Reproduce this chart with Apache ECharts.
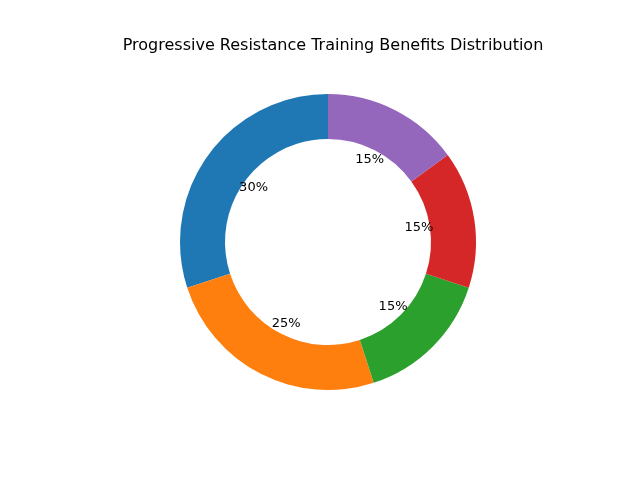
<!DOCTYPE html>
<html><head><meta charset="UTF-8"><title>donut</title>
<script src="https://cdn.jsdelivr.net/npm/echarts@6/dist/echarts.min.js"></script>
<style>html,body{margin:0;padding:0;background:#fff}#chart{width:640px;height:480px}</style>
</head><body>
<div id="chart"></div>
<script>
const categories = ['Strength', 'Muscle Growth', 'Endurance', 'Bone Density', 'Metabolism'];
const values = [30, 25, 15, 15, 15];
const colors = ['#1f77b4', '#ff7f0e', '#2ca02c', '#d62728', '#9467bd'];

const data = categories.map((c, i) => ({ name: c, value: values[i], itemStyle: { color: colors[i] } }));
const chart = echarts.init(document.getElementById('chart'));
chart.setOption({
    animation: false,
    title: {
        text: 'Progressive Resistance Training Benefits Distribution',
        left: 328, top: 33, textAlign: 'center',
        textStyle: { fontFamily: 'DejaVu Sans', fontSize: 16, fontWeight: 'normal', color: '#000' }
    },
    series: [
        {
            type: 'pie', center: [328, 242], radius: [103, 148],
            startAngle: 90, clockwise: false, silent: true,
            label: { show: false }, labelLine: { show: false },
            data: data
        },
        {
            // invisible helper so labels sit at 0.6 of outer radius
            type: 'pie', center: [328, 242], radius: [0, 178],
            startAngle: 90, clockwise: false, silent: true, z: 10,
            itemStyle: { color: 'rgba(0,0,0,0)' },
            label: {
                show: true, position: 'inside', formatter: p => p.value + '%',
                fontFamily: 'DejaVu Sans', fontSize: 13, color: '#000'
            },
            labelLine: { show: false },
            data: categories.map((c, i) => ({ name: c, value: values[i], itemStyle: { color: 'rgba(0,0,0,0)' } }))
        }
    ]
});
</script>
</body></html>
